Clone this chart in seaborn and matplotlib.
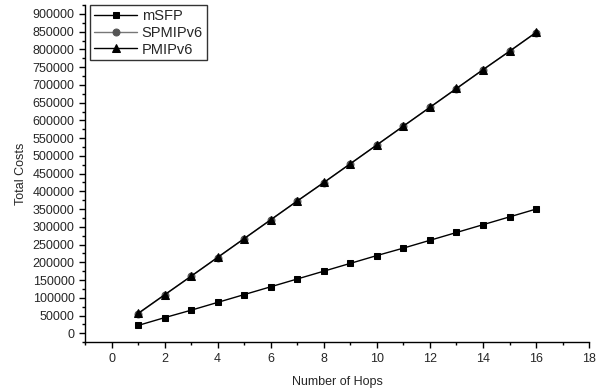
import numpy as np
import pandas as pd
import matplotlib
matplotlib.use("Agg")
import matplotlib.pyplot as plt
from matplotlib.ticker import MultipleLocator
import seaborn as sns

# values
hops = list(range(1, 17))
msfp = [22000, 44000, 65000, 87000, 109000, 131000, 153000, 175000,
        197000, 219000, 240000, 262000, 284000, 306000, 328000, 350000]
spmipv6 = [55000, 108000, 160500, 213500, 266500, 319500, 372500, 424500,
           477500, 530500, 583500, 636500, 689500, 742500, 794500, 847500]
pmipv6 = [56000, 108500, 161000, 214000, 267000, 320000, 373000, 425000,
          478000, 531000, 584000, 637000, 690000, 743000, 795000, 848000]

sns.set_style("ticks")
plt.rcParams['font.family'] = ['Liberation Sans', 'DejaVu Sans']

fig = plt.figure(figsize=(6.03, 3.91), dpi=100)
ax = fig.add_axes([0.141, 0.125, 0.836, 0.862])

series = [
    ("mSFP", msfp, "s", "black", "black", 5),
    ("SPMIPv6", spmipv6, "o", "#555555", "#777777", 5),
    ("PMIPv6", pmipv6, "^", "black", "black", 5.8),
]
for name, vals, mk, mcol, lcol, ms in series:
    df = pd.DataFrame({"hops": hops, "cost": vals})
    sns.lineplot(data=df, x="hops", y="cost", ax=ax, marker=mk, color=lcol,
                 markerfacecolor=mcol, markeredgecolor=mcol,
                 markersize=ms, linewidth=1.0, label=name)

ax.set_xlim(-1, 18)
ax.set_ylim(-25000, 925000)
ax.xaxis.set_major_locator(MultipleLocator(2))
ax.xaxis.set_minor_locator(MultipleLocator(1))
ax.yaxis.set_major_locator(MultipleLocator(50000))
ax.yaxis.set_minor_locator(MultipleLocator(25000))
ax.tick_params(which="major", direction="out", length=4, width=1, labelsize=9, color="black")
ax.tick_params(which="minor", direction="out", length=2.5, width=1, color="black")
for s in ["left", "bottom"]:
    ax.spines[s].set_linewidth(1.0)
    ax.spines[s].set_color("black")
sns.despine(ax=ax)

ax.set_xlabel("Number of Hops", fontsize=9, labelpad=8)
ax.set_ylabel("Total Costs", fontsize=9)

leg = ax.legend(loc="upper left", bbox_to_anchor=(0.01, 1.0), fontsize=10.5,
                frameon=True, fancybox=False, handlelength=3.0, markerscale=1.0,
                borderpad=0.25, labelspacing=0.2, handletextpad=0.3, borderaxespad=0.0)
leg.get_frame().set_edgecolor("black")
leg.get_frame().set_linewidth(1.0)

fig.savefig("out.png", dpi=100)
